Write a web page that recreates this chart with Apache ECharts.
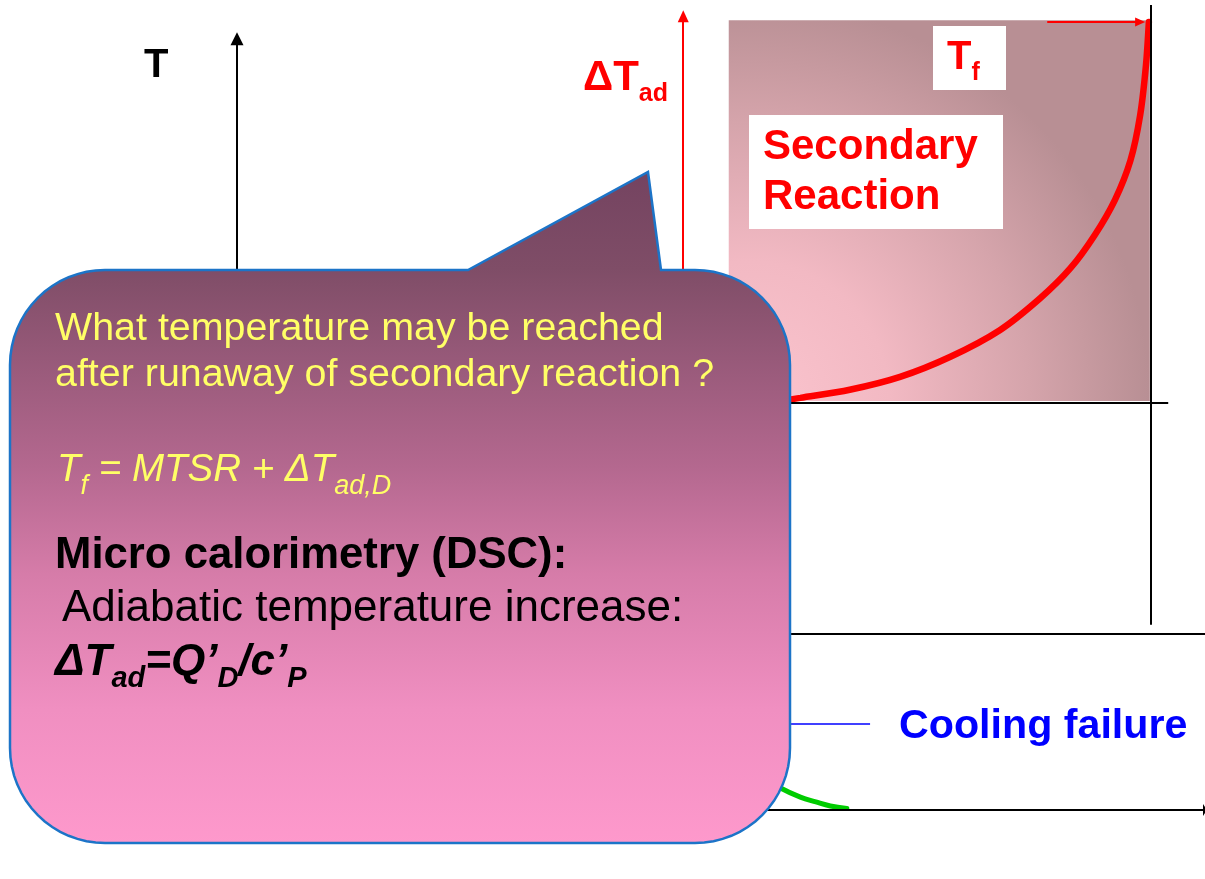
<!DOCTYPE html>
<html>
<head>
<meta charset="utf-8">
<script src="https://cdn.jsdelivr.net/npm/echarts@6/dist/echarts.min.js"></script>
<style>html,body{margin:0;padding:0;background:#fff;overflow:hidden}#c{width:1205px;height:879px}</style>
</head>
<body>
<div id="c"></div>
<script>
// ---- Data (time on x, temperature on y, both in % of the drawn axis span) ----
const reactionTime = [55.6, 58.2, 63.3, 68.5, 73.7, 78.8, 83.0, 86.1, 88.6, 90.7, 92.3, 93.3, 93.9, 94.2];
const reactionTemp = [50.7, 51.2, 52.2, 53.8, 56.3, 59.6, 63.6, 67.3, 71.4, 75.8, 80.7, 86.3, 92.5, 97.9];
const coolingTime = [54.0, 56.2, 58.2, 59.8, 61.3, 63.0];
const coolingTemp = [4.35, 2.7, 1.6, 1.0, 0.5, 0.19];
const levelMTSR = 50.6;        // start of secondary reaction
const levelProcess = 21.9;     // process level line
const levelCoolingNote = 10.7; // leader to "Cooling failure"
const levelTf = 97.9;          // final temperature arrow
const timeEnd = 94.4;          // end time (vertical line)
const timeDeltaAxis = 46.1;    // ΔTad arrow position
const regionTime = [50.8, 94.3];
const regionTemp = [50.8, 98.1];

// ---- Texts ----
const axisTitle = 'T';
const deltaLabel = ['ΔT', 'ad'];
const finalLabel = ['T', 'f'];
const reactionLabel = ['Secondary', 'Reaction'];
const coolingLabel = 'Cooling failure';
const questionLines = ['What temperature may be reached', 'after runaway of secondary reaction ?'];
const formulaTf = ['T', 'f', ' = MTSR + ΔT', 'ad,D'];
const dscTitle = 'Micro calorimetry (DSC):';
const dscLine = 'Adiabatic temperature increase:';
const formulaDT = ['ΔT', 'ad', '=Q’', 'D', '/c’', 'P'];

const FONT = '"Liberation Sans", Arial, sans-serif';
const mctx = document.createElement('canvas').getContext('2d');
const graphics = [];

function fontStr(s) {
  return (s.italic ? 'italic ' : '') + (s.bold ? 'bold ' : '') + s.size + 'px "Liberation Sans"';
}
function textRun(x0, base, sx, color, segs, z) {
  let x = x0;
  segs.forEach(s => {
    mctx.font = fontStr(s);
    const w = mctx.measureText(s.text).width;
    graphics.push({
      type: 'text', x: x, y: base + (s.dy || 0) - 0.3465 * s.size, scaleX: sx, z: z || 120, silent: true,
      style: {
        text: s.text, fill: s.color || color, fontSize: s.size,
        fontWeight: s.bold ? 'bold' : 'normal', fontStyle: s.italic ? 'italic' : 'normal',
        fontFamily: FONT, align: 'left', verticalAlign: 'middle'
      }
    });
    x += w * sx;
  });
}

// white label boxes
graphics.push({ type: 'rect', z: 110, silent: true, shape: { x: 933, y: 26, width: 73, height: 64 }, style: { fill: '#ffffff' } });
graphics.push({ type: 'rect', z: 110, silent: true, shape: { x: 749, y: 115, width: 254, height: 114 }, style: { fill: '#ffffff' } });

// right-hand labels
textRun(144, 80, 1, '#000', [{ text: axisTitle, size: 40, bold: true }]);
textRun(583, 93, 1, '#ff0000', [{ text: deltaLabel[0], size: 42, bold: true }, { text: deltaLabel[1], size: 25, bold: true, dy: 10 }]);
textRun(947, 72, 1, '#ff0000', [{ text: finalLabel[0], size: 40, bold: true }, { text: finalLabel[1], size: 25, bold: true, dy: 10 }]);
textRun(763, 162, 1, '#ff0000', [{ text: reactionLabel[0], size: 42, bold: true }]);
textRun(763, 212, 1, '#ff0000', [{ text: reactionLabel[1], size: 42, bold: true }]);
textRun(899, 741, 1.03, '#0000ff', [{ text: coolingLabel, size: 40, bold: true }]);

// callout bubble outline (rounded box with a tail)
function arcPts(cx, cy, r, a0, a1, out) {
  const n = 16;
  for (let i = 0; i <= n; i++) {
    const a = (a0 + (a1 - a0) * i / n) * Math.PI / 180;
    out.push([cx + r * Math.cos(a), cy + r * Math.sin(a)]);
  }
}
const R = 95, L = 10, Rt = 790, Tp = 270, Bt = 843;
const bubble = [];
arcPts(L + R, Tp + R, R, 180, 270, bubble);
bubble.push([468, Tp], [648, 172], [661, Tp]);
arcPts(Rt - R, Tp + R, R, 270, 360, bubble);
arcPts(Rt - R, Bt - R, R, 0, 90, bubble);
arcPts(L + R, Bt - R, R, 90, 180, bubble);
graphics.push({
  type: 'polygon', z: 200, silent: true,
  shape: { points: bubble },
  style: {
    fill: { type: 'linear', x: 0, y: 0, x2: 0, y2: 1, colorStops: [
      { offset: 0, color: '#744360' }, { offset: 0.146, color: '#7f4d67' },
      { offset: 0.44, color: '#b4688f' }, { offset: 0.6, color: '#d67ca9' },
      { offset: 0.8, color: '#f08fc1' }, { offset: 1, color: '#fe99cc' } ] },
    stroke: '#1c74c8', lineWidth: 2.5, lineJoin: 'miter'
  }
});

// callout texts
textRun(55, 343, 1, '#ffff66', [{ text: questionLines[0], size: 39.4 }], 220);
textRun(55, 389, 1, '#ffff66', [{ text: questionLines[1], size: 39.4 }], 220);
textRun(57, 484, 1, '#ffff66', [
  { text: formulaTf[0], size: 38.5, italic: true }, { text: formulaTf[1], size: 27, italic: true, dy: 12 },
  { text: formulaTf[2], size: 38.5, italic: true }, { text: formulaTf[3], size: 27, italic: true, dy: 12 }], 220);
textRun(55, 571, 1, '#000', [{ text: dscTitle, size: 43.7, bold: true }], 220);
textRun(62, 624, 1, '#000', [{ text: dscLine, size: 44 }], 220);
textRun(55, 678, 1, '#000', [
  { text: formulaDT[0], size: 44, bold: true, italic: true }, { text: formulaDT[1], size: 29, bold: true, italic: true, dy: 11 },
  { text: formulaDT[2], size: 44, bold: true, italic: true }, { text: formulaDT[3], size: 29, bold: true, italic: true, dy: 11 },
  { text: formulaDT[4], size: 44, bold: true, italic: true }, { text: formulaDT[5], size: 29, bold: true, italic: true, dy: 11 }], 220);

function seg(x1, y1, x2, y2, arrow) {
  return [
    { coord: [x1, y1], symbol: 'none' },
    arrow ? { coord: [x2, y2], symbol: 'triangle', symbolSize: arrow } : { coord: [x2, y2], symbol: 'none' }
  ];
}
const mlBase = { silent: true, animation: false, label: { show: false }, emphasis: { disabled: true } };

const option = {
  animation: false,
  grid: { left: 237, top: 5, right: 0, bottom: 69, containLabel: false },
  xAxis: { type: 'value', min: 0, max: 100, show: false },
  yAxis: { type: 'value', min: 0, max: 100, show: false },
  graphic: graphics,
  series: [
    {
      type: 'line', name: 'region', data: [], silent: true,
      markArea: {
        silent: true, animation: false, label: { show: false },
        itemStyle: {
          opacity: 1,
          color: { type: 'radial', x: 0.05, y: 1.0, r: 1.05, colorStops: [
            { offset: 0, color: '#fbc4ce' }, { offset: 0.35, color: '#f2b9c3' },
            { offset: 0.7, color: '#d5a4ab' }, { offset: 1, color: '#b88f94' } ] }
        },
        data: [[{ coord: [regionTime[0], regionTemp[0]] }, { coord: [regionTime[1], regionTemp[1]] }]]
      }
    },
    {
      type: 'line', name: 'frame', data: [], silent: true,
      markLine: Object.assign({}, mlBase, {
        lineStyle: { color: '#000', width: 2, type: 'solid' },
        data: [
          seg(0, 0, 0, 95.8, [13, 13]),
          seg(0, 0, 100, 0, [12, 4]),
          seg(timeEnd, 23.0, timeEnd, 100),
          seg(47.8, levelMTSR, 96.2, levelMTSR),
          seg(47.8, levelProcess, 100, levelProcess)
        ]
      })
    },
    {
      type: 'line', name: 'leader', data: [], silent: true,
      markLine: Object.assign({}, mlBase, {
        lineStyle: { color: '#0000ff', width: 1.5, type: 'solid' },
        data: [seg(47.8, levelCoolingNote, 65.4, levelCoolingNote)]
      })
    },
    {
      type: 'line', name: 'redArrows', data: [], silent: true,
      markLine: Object.assign({}, mlBase, {
        lineStyle: { color: '#ff0000', width: 2, type: 'solid' },
        data: [
          seg(timeDeltaAxis, 60, timeDeltaAxis, 98.6, [11, 12]),
          seg(83.7, levelTf, 93.3, levelTf, [9, 10])
        ]
      })
    },
    {
      type: 'line', name: 'Secondary reaction', silent: true,
      data: reactionTime.map((t, i) => [t, reactionTemp[i]]),
      smooth: 0.3, symbol: 'none',
      lineStyle: { color: '#ff0000', width: 6.5, cap: 'round' }
    },
    {
      type: 'line', name: 'Cooling', silent: true,
      data: coolingTime.map((t, i) => [t, coolingTemp[i]]),
      smooth: 0.4, symbol: 'none',
      lineStyle: { color: '#00cc00', width: 5, cap: 'round' }
    }
  ]
};
const chart = echarts.init(document.getElementById('c'), null, { renderer: 'canvas' });
chart.setOption(option);
</script>
</body>
</html>
